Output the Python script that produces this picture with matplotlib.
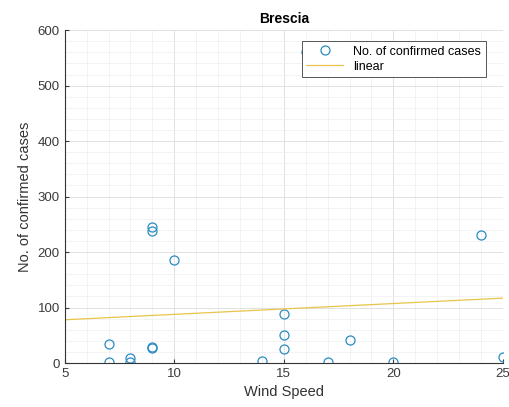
import numpy as np
from matplotlib import pyplot as plt
from matplotlib.ticker import MultipleLocator

plt.rcParams['font.family'] = ['Liberation Sans', 'DejaVu Sans']

# wind speed vs confirmed cases
wind_speed = [7, 7, 8, 8, 9, 9, 9, 9, 10, 14, 15, 15, 15, 16, 17, 18, 20, 24, 25]
cases = [35, 2, 9, 1, 245, 238, 28, 29, 185, 3, 88, 51, 26, 561, 1, 41, 2, 230, 11]

# linear fit line end points
fit_x = [5, 25]
fit_y = [78, 117]

fig = plt.figure(figsize=(5.1, 4.07), dpi=100)
ax = fig.add_axes([0.127, 0.108, 0.859, 0.818])

ax.plot(wind_speed, cases, 'o', markerfacecolor='none', markeredgecolor='#2b8cc4',
        markersize=6.5, markeredgewidth=0.9, label='No. of confirmed cases')
ax.plot(fit_x, fit_y, color='#e8c44a', linewidth=0.9, label='linear')

ax.set_xlim(5, 25)
ax.set_ylim(0, 600)
ax.set_xticks([5, 10, 15, 20, 25])
ax.set_yticks(range(0, 601, 100))
ax.xaxis.set_minor_locator(MultipleLocator(1))
ax.yaxis.set_minor_locator(MultipleLocator(20))
ax.grid(which='major', color='#dcdcdc', linewidth=0.6)
ax.grid(which='minor', color='#efefef', linewidth=0.5)
ax.set_axisbelow(True)

ax.tick_params(which='both', direction='in', labelsize=9.5, colors='#3a3a3a')
ax.tick_params(which='minor', length=0)
ax.tick_params(which='major', length=3, top=False, right=False)
for s in ['top', 'right']:
    ax.spines[s].set_visible(False)
for s in ['left', 'bottom']:
    ax.spines[s].set_color('#333333')
    ax.spines[s].set_linewidth(0.8)

ax.set_title('Brescia', fontsize=10, fontweight='bold', pad=5)
ax.set_xlabel('Wind Speed', fontsize=10.5, color='#333333')
ax.set_ylabel('No. of confirmed cases', fontsize=10.5, color='#333333')

leg = ax.legend(loc='upper right', bbox_to_anchor=(0.975, 0.985), fontsize=9,
                fancybox=False, framealpha=1, edgecolor='#555555',
                borderpad=0.35, labelspacing=0.25, handlelength=3.0)
leg.get_frame().set_linewidth(0.7)

plt.savefig('out.png', dpi=100)
